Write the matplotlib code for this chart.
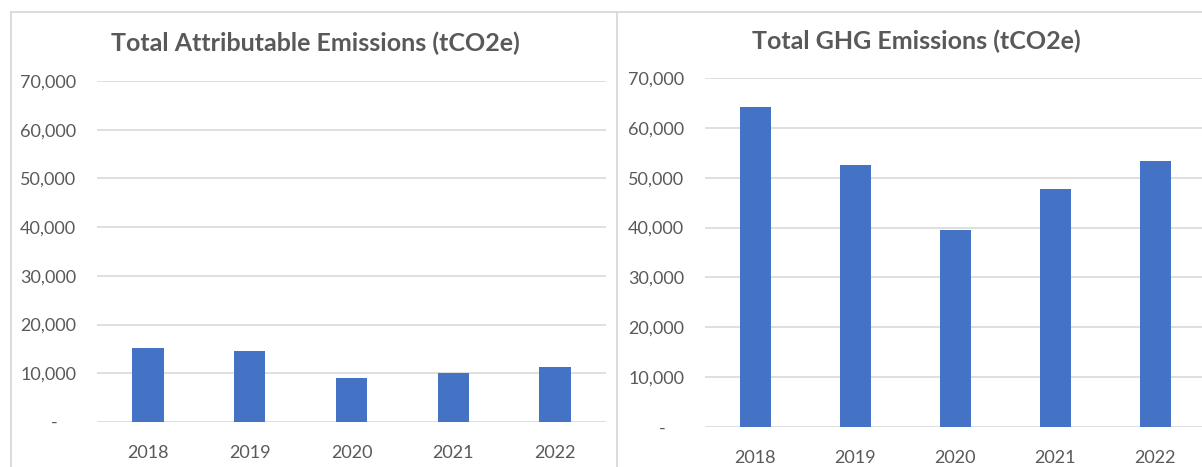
import matplotlib
matplotlib.use("Agg")
import matplotlib.pyplot as plt
from matplotlib.ticker import FuncFormatter
from matplotlib.lines import Line2D

years = ["2018", "2019", "2020", "2021", "2022"]
attributable = [15100, 14600, 9050, 10150, 11300]
total_ghg = [64250, 52600, 39500, 47700, 53450]
yticks = [0, 10000, 20000, 30000, 40000, 50000, 60000, 70000]

BAR = "#4472C4"
TXT = "#595959"
GRID = "#D9D9D9"
FONT = ["Lato", "DejaVu Sans"]

W, H = 1202, 467
fig = plt.figure(figsize=(W / 100, H / 100), dpi=100)


def fmt(v, _):
    if v == 0:
        return "-    "
    return f"{v:,.0f}"


def px_axes(x0, x1, ytop, ybot):
    # pixel box -> figure fraction
    return fig.add_axes([x0 / W, (H - ybot) / H, (x1 - x0) / W, (ybot - ytop) / H])


def draw_panel(ax, values, title, title_x, title_y):
    ax.bar(range(len(years)), values, width=0.31, color=BAR, zorder=3)
    ax.set_xlim(-0.5, len(years) - 0.5)
    ax.set_ylim(0, 70000)
    ax.set_yticks(yticks)
    ax.yaxis.set_major_formatter(FuncFormatter(fmt))
    ax.set_xticks(range(len(years)))
    ax.set_xticklabels(years)
    ax.grid(axis="y", color=GRID, linewidth=1.2, zorder=0)
    for s in ax.spines.values():
        s.set_visible(False)
    ax.tick_params(length=0, colors=TXT, labelsize=13)
    ax.tick_params(axis="y", pad=15)
    ax.tick_params(axis="x", pad=16.5)
    for lab in ax.get_xticklabels() + ax.get_yticklabels():
        lab.set_family(FONT)
    fig.text(title_x / W, 1 - title_y / H, title, ha="center", va="center",
             fontsize=18, fontweight="bold", color=TXT, family=FONT)


ax1 = px_axes(97, 606, 81, 422)
draw_panel(ax1, attributable, "Total Attributable Emissions (tCO2e)", 315, 43)

ax2 = px_axes(705, 1205, 78, 427)
draw_panel(ax2, total_ghg, "Total GHG Emissions (tCO2e)", 916, 41)

# panel borders
border = dict(color=GRID, linewidth=1.3, transform=fig.transFigure)
fig.add_artist(Line2D([11 / W, 1], [1 - 12 / H, 1 - 12 / H], **border))
fig.add_artist(Line2D([11 / W, 11 / W], [0, 1 - 12 / H], **border))
fig.add_artist(Line2D([617 / W, 617 / W], [0, 1 - 12 / H], **border))

fig.savefig("out.png", dpi=100, facecolor="white")
